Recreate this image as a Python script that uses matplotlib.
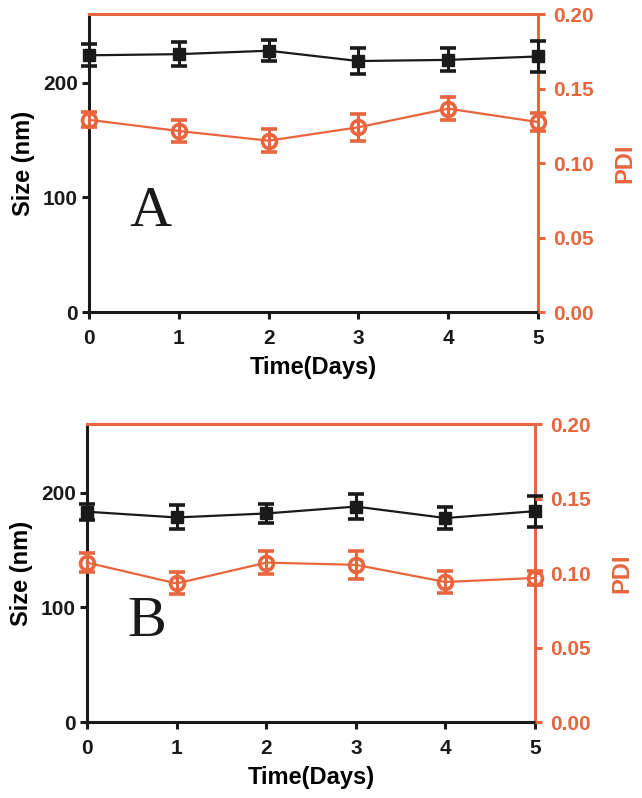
import numpy as np
import matplotlib
matplotlib.use('Agg')
import matplotlib.pyplot as plt

plt.rcParams['font.family'] = ['Liberation Sans', 'DejaVu Sans']
plt.rcParams['font.weight'] = 'bold'

# data
days = [0, 1, 2, 3, 4, 5]

size_A = [224, 225, 228, 219, 220, 223]
size_A_err = [9.5, 10.5, 9, 11.5, 10, 13.5]
pdi_A = [0.129, 0.1215, 0.115, 0.124, 0.1365, 0.1275]
pdi_A_err = [0.005, 0.0076, 0.0078, 0.009, 0.0076, 0.006]

size_B = [183.5, 178.5, 182, 188, 178, 184]
size_B_err = [7, 10.5, 8.5, 11, 9.5, 13.5]
pdi_B = [0.107, 0.093, 0.107, 0.1055, 0.094, 0.0967]
pdi_B_err = [0.0065, 0.0074, 0.0078, 0.0093, 0.0075, 0.005]

size_ticks = [0, 100, 200]
pdi_ticks = [0.00, 0.05, 0.10, 0.15, 0.20]

orange = '#E8653D'
black = '#1a1a1a'


def panel(fig, rect, size, size_err, pdi, pdi_err, letter):
    ax = fig.add_axes(rect)
    ax2 = ax.twinx()

    # size (nm) on the left axis
    ax.errorbar(days, size, yerr=size_err, color=black, marker='s', ms=9,
                lw=1.6, elinewidth=2.2, capsize=6, capthick=2.6,
                zorder=4, clip_on=False)
    ax.set_xlim(0, 5)
    ax.set_ylim(0, 260)
    ax.set_yticks(size_ticks)
    ax.set_xticks(days)
    ax.set_ylabel('Size (nm)', fontsize=17, fontweight='bold', labelpad=6)
    ax.set_xlabel('Time(Days)', fontsize=17, fontweight='bold', labelpad=6)

    for s in ['left', 'bottom']:
        ax.spines[s].set_color(black)
        ax.spines[s].set_linewidth(2.2)
    for s in ['top', 'right']:
        ax.spines[s].set_color(orange)
        ax.spines[s].set_linewidth(2.2)
    ax.tick_params(axis='both', direction='out', length=5, width=2.2,
                   labelsize=15, color=black, labelcolor=black)
    ax.tick_params(axis='x', pad=7)
    ax.tick_params(axis='y', pad=3)

    # PDI on the right axis
    ax2.errorbar(days, pdi, yerr=pdi_err, color=orange, marker='o', ms=10,
                 mfc='none', mec=orange, mew=2.6, lw=1.6, elinewidth=2.2,
                 capsize=6, capthick=2.6, zorder=4, clip_on=False)
    ax2.set_ylim(0, 0.2)
    ax2.set_yticks(pdi_ticks)
    ax2.set_yticklabels(['%.2f' % t for t in pdi_ticks])
    ax2.set_ylabel('PDI', fontsize=17, fontweight='bold', color=orange,
                   labelpad=14)
    for s in ax2.spines.values():
        s.set_visible(False)
    ax2.tick_params(axis='y', direction='out', length=5, width=2.2,
                    labelsize=15, color=orange, labelcolor=orange, pad=6)
    ax2.yaxis.get_major_ticks()[0].tick2line.set_color(black)

    ax.text(0.09, 0.29, letter, transform=ax.transAxes, fontsize=42,
            family='Liberation Serif', fontweight='normal', color=black,
            va='baseline', ha='left')
    return ax, ax2


fig = plt.figure(figsize=(6.42, 7.98), dpi=100)
panel(fig, [0.1386, 0.609, 0.6994, 0.3734], size_A, size_A_err, pdi_A, pdi_A_err, 'A')
panel(fig, [0.1355, 0.0952, 0.698, 0.3734], size_B, size_B_err, pdi_B, pdi_B_err, 'B')

fig.savefig('out.png', dpi=100)
